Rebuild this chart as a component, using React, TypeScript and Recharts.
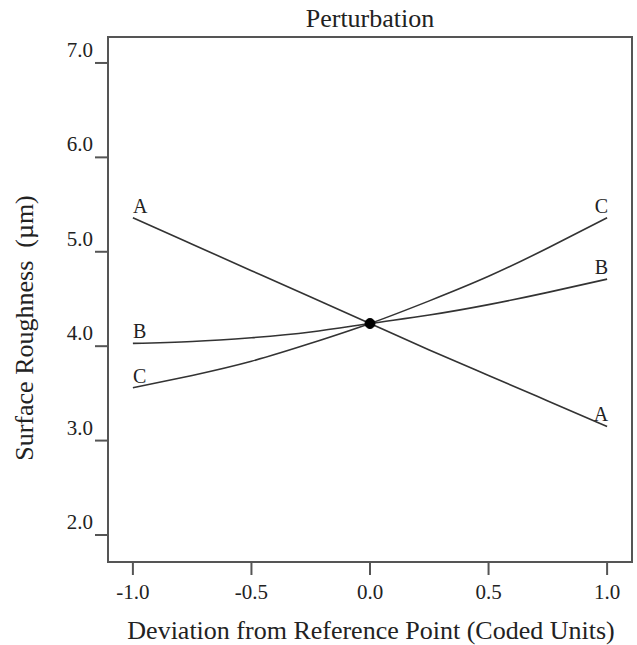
import { LineChart, Line, XAxis, YAxis, ReferenceArea, ReferenceDot } from "recharts";

const xValues = [-1, -0.75, -0.5, -0.25, 0, 0.25, 0.5, 0.75, 1];
const seriesA = [5.36, 5.08, 4.8, 4.52, 4.24, 3.96, 3.69, 3.42, 3.15];
const seriesB = [4.03, 4.05, 4.09, 4.15, 4.24, 4.33, 4.44, 4.57, 4.71];
const seriesC = [3.56, 3.69, 3.84, 4.03, 4.24, 4.48, 4.74, 5.04, 5.36];
const xTicks = [-1, -0.5, 0, 0.5, 1];
const yTicks = [2, 3, 4, 5, 6, 7];
const xDomain = [-1.105, 1.105];
const yDomain = [1.714, 7.275];
const refPoint = { x: 0, y: 4.24 };

const data = xValues.map((x, i) => ({ x, A: seriesA[i], B: seriesB[i], C: seriesC[i] }));

const FONT = "'Liberation Serif', 'Times New Roman', serif";
const INK = "#222";
const FRAME = "#555";

const YTick = ({ x, y, payload }: any) => (
  <text x={x} y={y} dy={-6} textAnchor="end" fontFamily={FONT} fontSize={21} fill={INK}>
    {Number(payload.value).toFixed(1)}
  </text>
);

const XTick = ({ x, y, payload }: any) => (
  <text x={x} y={y} dy={22} textAnchor="middle" fontFamily={FONT} fontSize={21} fill={INK}>
    {Number(payload.value).toFixed(1)}
  </text>
);

// letter at both ends of a line, sitting just above it
const endLabel = (name: string) => (props: any) => {
  const { x, y, index } = props;
  if (index !== 0 && index !== xValues.length - 1) return null;
  const left = index === 0;
  return (
    <text key={`${name}-${index}`} x={left ? x : x + 1} y={y - 5} textAnchor={left ? "start" : "end"}
      fontFamily={FONT} fontSize={20} fill={INK}>
      {name}
    </text>
  );
};

export default function App() {
  return (
    <div style={{ position: "absolute", left: 0, top: 0, width: 637, height: 645, background: "#fff" }}>
      <LineChart width={637} height={645} data={data} margin={{ top: 37, right: 5, bottom: 53, left: 48 }}>
        <XAxis type="number" dataKey="x" domain={xDomain} ticks={xTicks} allowDataOverflow
          tick={<XTick />} tickSize={13} height={30}
          axisLine={{ stroke: FRAME, strokeWidth: 2 }} tickLine={{ stroke: FRAME, strokeWidth: 2 }} />
        <YAxis type="number" domain={yDomain} ticks={yTicks} allowDataOverflow
          tick={<YTick />} tickSize={13} width={60}
          axisLine={{ stroke: FRAME, strokeWidth: 2 }} tickLine={{ stroke: FRAME, strokeWidth: 2 }} />
        <ReferenceArea x1={xDomain[0]} x2={xDomain[1]} y1={yDomain[0]} y2={yDomain[1]}
          fill="none" stroke={FRAME} strokeWidth={2} ifOverflow="visible" />
        <Line type="natural" dataKey="A" stroke="#333" strokeWidth={1.6} dot={false} isAnimationActive={false} label={endLabel("A")} />
        <Line type="natural" dataKey="B" stroke="#333" strokeWidth={1.6} dot={false} isAnimationActive={false} label={endLabel("B")} />
        <Line type="natural" dataKey="C" stroke="#333" strokeWidth={1.6} dot={false} isAnimationActive={false} label={endLabel("C")} />
        <ReferenceDot x={refPoint.x} y={refPoint.y} r={5} fill="#000" stroke="#000" />
      </LineChart>
      <svg width={637} height={645} style={{ position: "absolute", left: 0, top: 0, pointerEvents: "none" }}>
        <text x={370} y={27} textAnchor="middle" fontFamily={FONT} fontSize={26} fill={INK}>Perturbation</text>
        <text x={371} y={639} textAnchor="middle" fontFamily={FONT} fontSize={26} fill={INK}>
          Deviation from Reference Point (Coded Units)
        </text>
        <text transform="translate(33,328) rotate(-90)" textAnchor="middle" fontFamily={FONT} fontSize={26} fill={INK}
          style={{ whiteSpace: "pre" }}>
          {"Surface Roughness  (\u00b5m)"}
        </text>
      </svg>
    </div>
  );
}
